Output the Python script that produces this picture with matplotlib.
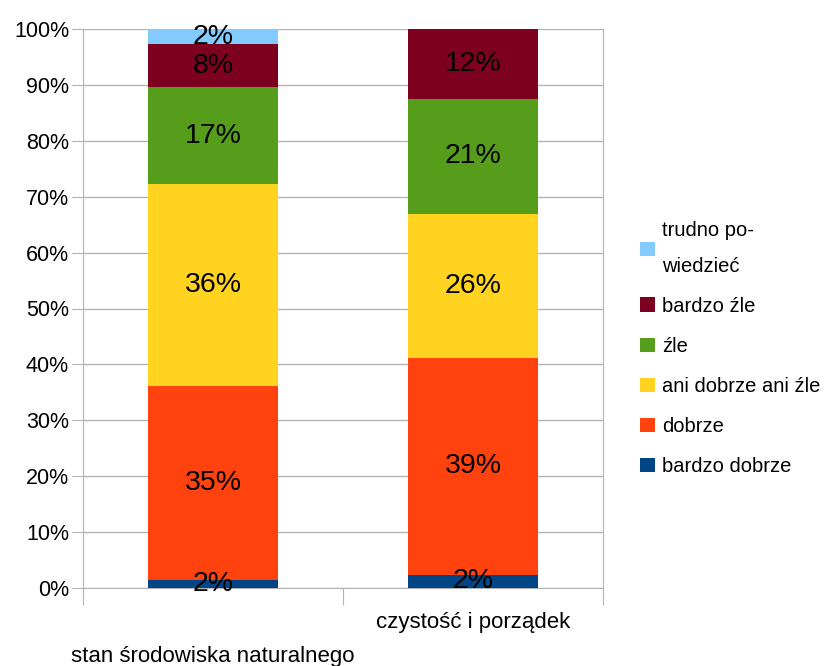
import matplotlib
matplotlib.use("Agg")
import matplotlib.pyplot as plt
from matplotlib.patches import Patch
import matplotlib.transforms as mtransforms

plt.rcParams['font.family'] = ['Liberation Sans', 'DejaVu Sans']

categories = ["stan środowiska naturalnego", "czystość i porządek"]
series = ["bardzo dobrze", "dobrze", "ani dobrze ani źle", "źle", "bardzo źle", "trudno po-\nwiedzieć"]
colors = ["#004586", "#FF420E", "#FFD320", "#579D1C", "#7E0021", "#83CAFF"]

bardzo_dobrze = [1.5, 2.4]
dobrze = [34.6, 38.7]
ani = [36.1, 25.8]
zle = [17.4, 20.6]
bardzo_zle = [7.7, 12.5]
trudno = [2.7, 0.0]

labels_bardzo_dobrze = ["2%", "2%"]
labels_dobrze = ["35%", "39%"]
labels_ani = ["36%", "26%"]
labels_zle = ["17%", "21%"]
labels_bardzo_zle = ["8%", "12%"]
labels_trudno = ["2%", ""]

values = [bardzo_dobrze, dobrze, ani, zle, bardzo_zle, trudno]
labels = [labels_bardzo_dobrze, labels_dobrze, labels_ani, labels_zle, labels_bardzo_zle, labels_trudno]

fig = plt.figure(figsize=(8.29, 6.66), dpi=100)
W, H = 829, 666
ax = fig.add_axes([83 / W, 1 - 588 / H, (603 - 83) / W, (588 - 29) / H])

x = [0.5, 1.5]
bottom = [0.0, 0.0]
handles = []
for vals, labs, col, name in zip(values, labels, colors, series):
    ax.bar(x, vals, width=0.5, bottom=bottom, color=col, zorder=3, linewidth=0)
    for xi, v, b, lab in zip(x, vals, bottom, labs):
        if lab:
            ax.text(xi, b + v / 2, lab, ha='center', va='center', fontsize=20.5, color='black', zorder=4)
    bottom = [b + v for b, v in zip(bottom, vals)]
    handles.append(Patch(facecolor=col, label=name))

ax.set_xlim(0, 2)
ax.set_ylim(0, 100)
ax.set_yticks(range(0, 101, 10))
ax.set_yticklabels([f"{v}%" for v in range(0, 101, 10)], fontsize=15.5)
ax.yaxis.grid(True, color='#b3b3b3', linewidth=1, zorder=0)
ax.tick_params(axis='y', length=8, color='#b3b3b3', pad=2)

ax.set_xticks([0, 1, 2])
ax.set_xticklabels([])
ax.tick_params(axis='x', length=12, color='#b3b3b3', direction='out')

for s in ['top']:
    ax.spines[s].set_visible(False)
for s in ['left', 'right', 'bottom']:
    ax.spines[s].set_color('#b3b3b3')

trans = mtransforms.blended_transform_factory(ax.transData, ax.transAxes)
offsets = [-49, -25]
for xi, cat, off in zip(x, categories, offsets):
    ax.annotate(cat, xy=(xi, 0), xycoords=trans, xytext=(0, off), textcoords='offset points',
                ha='center', va='center', fontsize=16)

leg = fig.legend(handles=handles[::-1], loc='upper left', bbox_to_anchor=(632 / W, 1 - 213 / H),
                 frameon=False, fontsize=14.5, handlelength=0.72, handleheight=0.72,
                 handletextpad=0.38, labelspacing=1.05, borderaxespad=0)
for t in leg.get_texts():
    t.set_linespacing(2.1)

fig.savefig("out.png", dpi=100)
